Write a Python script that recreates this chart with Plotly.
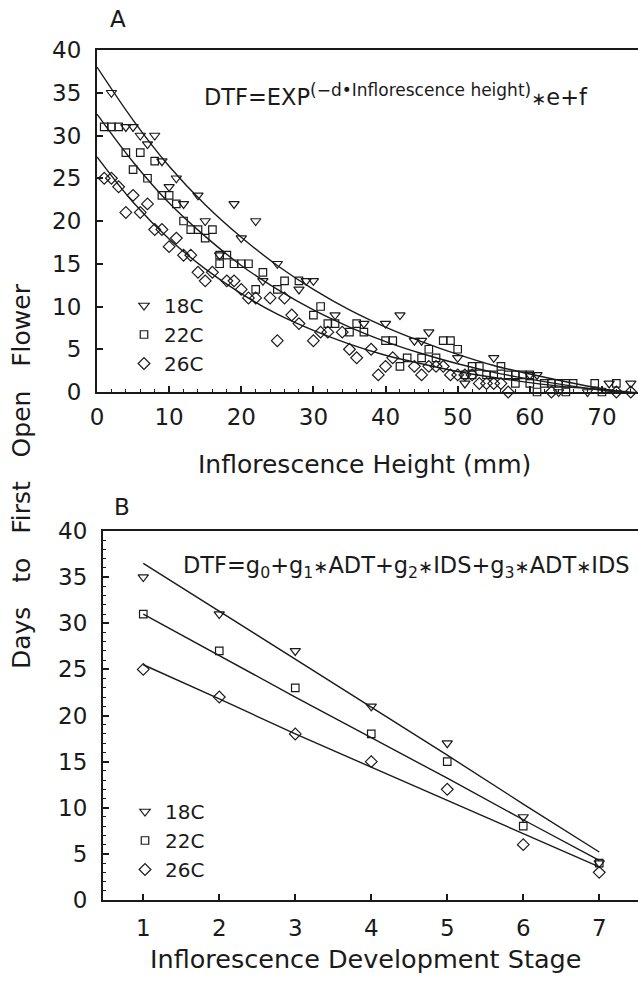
import plotly.graph_objects as go

FONT = "DejaVu Sans, Liberation Sans, Arial, sans-serif"
INK = "#1a1a1a"

# ---------------- Panel A: DTF vs inflorescence height ----------------
h18 = [2, 4, 5, 6, 8, 7, 9, 11, 10, 14, 12, 19, 15, 22, 20, 17, 25, 23, 28, 29, 30, 33,
       37, 40, 42, 46, 44, 45, 50, 55, 51, 60, 61, 64, 68, 71, 74]
d18 = [35, 31, 31, 30, 30, 29, 27, 25, 24, 23, 22, 22, 20, 20, 18, 16, 15, 13, 12, 13, 13, 9,
       8, 8, 9, 7, 6, 6, 4, 4, 1, 2, 2, 0, 0, 1, 1]

h22 = [1, 2, 3, 4, 6, 5, 8, 7, 9, 10, 11, 12, 13, 14, 16, 15, 17, 18, 17, 19, 20, 21, 23, 26,
       28, 22, 25, 31, 30, 32, 33, 35, 36, 37, 40, 41, 42, 46, 47, 48, 49, 50, 43, 45, 51, 52,
       53, 52, 54, 55, 56, 57, 58, 59, 60, 58, 60, 62, 63, 64, 65, 66, 69, 72, 61, 65, 70]
d22 = [31, 31, 31, 28, 28, 26, 27, 25, 23, 23, 22, 20, 19, 19, 19, 18, 16, 16, 15, 15, 15, 15, 14, 13,
       13, 12, 12, 10, 9, 8, 8, 7, 8, 7, 6, 6, 3, 5, 4, 6, 6, 5, 4, 4, 2, 3,
       3, 2, 2, 2, 3, 2, 2, 2, 2, 1, 1, 1, 1, 1, 1, 1, 1, 1, 0, 0, 0]

h26 = [1, 2, 3, 5, 4, 6, 7, 8, 9, 10, 11, 12, 13, 14, 15, 16, 18, 19, 20, 21, 22, 24, 26, 27,
       28, 25, 30, 31, 32, 34, 35, 36, 38, 39, 40, 41, 44, 45, 46, 47, 48, 49, 50, 51, 52, 53,
       54, 55, 56, 57, 63, 72, 74]
d26 = [25, 25, 24, 23, 21, 21, 22, 19, 19, 17, 18, 16, 16, 14, 13, 14, 13, 13, 12, 11, 11, 11, 11, 9,
       8, 6, 6, 7, 7, 7, 5, 4, 5, 2, 3, 4, 3, 2, 3, 3, 3, 2, 2, 2, 2, 1,
       1, 1, 1, 0, 0, 0, 0]

# fitted curves every 5 mm
fit_h = [0, 5, 10, 15, 20, 25, 30, 35, 40, 45, 50, 55, 60, 65, 70, 75]
fit18 = [38.0, 31.8, 26.4, 21.9, 18.1, 14.8, 12.0, 9.6, 7.6, 5.9, 4.4, 3.1, 2.1, 1.2, 0.4, -0.2]
fit22 = [32.5, 26.9, 22.1, 18.2, 14.8, 12.0, 9.6, 7.6, 5.9, 4.5, 3.3, 2.3, 1.5, 0.8, 0.2, -0.3]
fit26 = [27.5, 22.2, 17.9, 14.4, 11.5, 9.1, 7.2, 5.6, 4.3, 3.3, 2.4, 1.7, 1.1, 0.6, 0.3, -0.1]

# ---------------- Panel B: DTF vs development stage ----------------
stage = [1, 2, 3, 4, 5, 6, 7]
b18 = [35, 31, 27, 21, 17, 9, 4]
b22 = [31, 27, 23, 18, 15, 8, 4]
b26 = [25, 22, 18, 15, 12, 6, 3]
bfit18 = [36.5, 31.3, 26.1, 20.9, 15.7, 10.4, 5.2]
bfit22 = [31.0, 26.5, 22.0, 17.6, 13.2, 8.7, 4.3]
bfit26 = [25.5, 21.8, 18.0, 14.4, 10.8, 7.2, 3.6]

names = ["18C", "22C", "26C"]
symbols = ["triangle-down-open", "square-open", "diamond-open"]
msizes = [9, 7.5, 9]

W, H = 638, 981
def px(x):
    return x / W
def py(y):
    return 1 - y / H

fig = go.Figure()

# Panel A fits
for fy in (fit18, fit22, fit26):
    fig.add_trace(go.Scatter(x=fit_h, y=fy, mode="lines", line=dict(color=INK, width=1.4, shape="spline"),
                             showlegend=False, hoverinfo="skip", xaxis="x", yaxis="y"))
for nm, sym, ms, hx, dy in zip(names, symbols, msizes, (h18, h22, h26), (d18, d22, d26)):
    fig.add_trace(go.Scatter(x=hx, y=dy, mode="markers", name=nm, cliponaxis=False,
                             marker=dict(symbol=sym, size=ms, color=INK, line=dict(width=1.2, color=INK)),
                             xaxis="x", yaxis="y", legend="legend"))

# Panel B fits
for fy in (bfit18, bfit22, bfit26):
    fig.add_trace(go.Scatter(x=stage, y=fy, mode="lines", line=dict(color=INK, width=1.4),
                             showlegend=False, hoverinfo="skip", xaxis="x2", yaxis="y2"))
for nm, sym, ms, by in zip(names, symbols, msizes, (b18, b22, b26)):
    fig.add_trace(go.Scatter(x=stage, y=by, mode="markers", name=nm, cliponaxis=False,
                             marker=dict(symbol=sym, size=ms, color=INK, line=dict(width=1.2, color=INK)),
                             xaxis="x2", yaxis="y2", legend="legend2"))

tickfont = dict(family=FONT, size=23, color=INK)
common = dict(showgrid=False, zeroline=False, showline=True, linecolor=INK, linewidth=2,
              ticks="inside", tickcolor=INK, tickwidth=1.5, ticklen=6, tickfont=tickfont,
              automargin=False)

legend_common = dict(font=dict(family=FONT, size=20, color=INK), bgcolor="rgba(0,0,0,0)",
                     xanchor="left", yanchor="top", tracegroupgap=0, itemwidth=30,
                     itemclick=False, itemdoubleclick=False)

fig.update_layout(
    width=W, height=H,
    margin=dict(l=0, r=0, t=0, b=0, autoexpand=False),
    paper_bgcolor="white", plot_bgcolor="white",
    font=dict(family=FONT, color=INK),
    xaxis=dict(domain=[px(97), 1], range=[0, 75.0], tickvals=[0, 10, 20, 30, 40, 50, 60, 70],
               mirror=True, anchor="y", ticklabelstandoff=3,
               minor=dict(dtick=2, ticks="inside", ticklen=3, tickcolor=INK, tickwidth=1), **common),
    yaxis=dict(domain=[py(392), py(50)], range=[0, 40], tickvals=[0, 5, 10, 15, 20, 25, 30, 35, 40],
               mirror=False, anchor="x", ticklabelstandoff=9, **common),
    xaxis2=dict(domain=[px(103), 1], range=[0.47, 7.51], tickvals=stage,
                mirror=True, anchor="y2", ticklabelstandoff=6, **common),
    yaxis2=dict(domain=[py(900), py(531)], range=[0, 40], tickvals=[0, 5, 10, 15, 20, 25, 30, 35, 40],
                mirror=False, anchor="x2", ticklabelstandoff=9,
                minor=dict(dtick=1, ticks="inside", ticklen=3, tickcolor=INK, tickwidth=1), **common),
    legend=dict(x=px(124), y=py(286), **legend_common),
    legend2=dict(x=px(125), y=py(792), **legend_common),
)

STAR = "<span style=\"font-size:18px\">\u2217</span>"

annos = [
    dict(text="A", x=px(118), y=py(19), font=dict(size=23)),
    dict(text="B", x=px(122), y=py(507), font=dict(size=23)),
    dict(text="Inflorescence Height (mm)", x=px(364), y=py(464), font=dict(size=25)),
    dict(text="Inflorescence Development Stage", x=px(365), y=py(959), font=dict(size=25.5)),
    dict(text="Days\u00a0\u00a0\u00a0to\u00a0\u00a0\u00a0First\u00a0\u00a0\u00a0Open\u00a0\u00a0\u00a0Flower",
         x=px(22), y=py(476), textangle=-90, font=dict(size=25)),
    dict(text="DTF=EXP<sup><span style=\"font-size:17px\">(\u2212d\u2022Inflorescence height)</span></sup>"
              + STAR + "e+f",
         x=px(202), y=py(95), xanchor="left", font=dict(size=22.5)),
    dict(text="DTF=g<sub>0</sub>+g<sub>1</sub>" + STAR + "ADT+g<sub>2</sub>" + STAR + "IDS+g<sub>3</sub>"
              + STAR + "ADT" + STAR + "IDS",
         x=px(181), y=py(567), xanchor="left", font=dict(size=22.5)),
]
for a in annos:
    a.setdefault("xanchor", "center")
    a.update(xref="paper", yref="paper", showarrow=False, yanchor="middle")
    a["font"] = dict(family=FONT, color=INK, **a["font"])
    fig.add_annotation(**a)

fig.write_html("out.html", config={"displayModeBar": False},
               post_script="document.body.style.margin='0px';document.body.style.overflow='hidden';")
